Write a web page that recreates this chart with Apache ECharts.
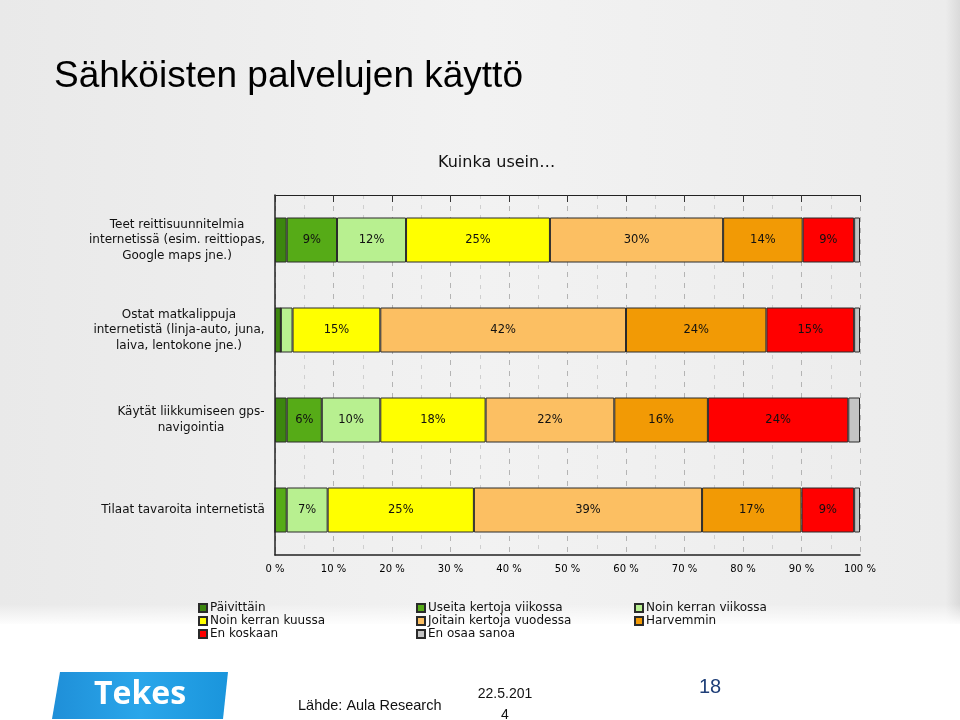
<!DOCTYPE html>
<html>
<head>
<meta charset="utf-8">
<script src="https://cdn.jsdelivr.net/npm/echarts/dist/echarts.min.js"></script>
<style>
html,body{margin:0;padding:0;background:#fff;}
#chart{width:960px;height:720px;}
</style>
</head>
<body>
<div id="chart"></div>
<script>
// ---- data ----
var categories = [
  'Teet reittisuunnitelmia\ninternetissä (esim. reittiopas,\nGoogle maps jne.)',
  'Ostat matkalippuja\ninternetistä (linja-auto, juna,\nlaiva, lentokone jne.)',
  'Käytät liikkumiseen gps-\nnavigointia',
  'Tilaat tavaroita internetistä'
];
var seriesNames = ['Päivittäin', 'Useita kertoja viikossa', 'Noin kerran viikossa',
  'Noin kerran kuussa', 'Joitain kertoja vuodessa', 'Harvemmin', 'En koskaan', 'En osaa sanoa'];
var paivittain = [2, 1, 2, 0];
var useitaViikossa = [8.6, 0, 6, 2];
var kerranViikossa = [11.8, 2, 10, 7];
var kerranKuussa = [24.6, 15, 18, 25];
var vuodessa = [29.6, 42, 22, 39];
var harvemmin = [13.6, 24, 16, 17];
var enKoskaan = [8.8, 15, 24, 9];
var enOsaa = [1, 1, 2, 1];
var xTicks = [0, 10, 20, 30, 40, 50, 60, 70, 80, 90, 100];

var values = [paivittain, useitaViikossa, kerranViikossa, kerranKuussa, vuodessa, harvemmin, enKoskaan, enOsaa];
var colors = ['#3c860e', '#56ab17', '#b8f090', '#ffff00', '#fcbf62', '#f29a05', '#ff0000', '#c4c4c4'];

// measure category label widths to center lines inside a right-aligned block
var catFont = '12px "DejaVu Sans"';
var cv = document.createElement('canvas').getContext('2d');
cv.font = catFont;
var rich = {};
categories.forEach(function (c, i) {
  var w = 0;
  c.split('\n').forEach(function (l) { w = Math.max(w, cv.measureText(l).width); });
  rich['r' + i] = { width: Math.ceil(w), align: 'center', fontSize: 12, fontFamily: 'DejaVu Sans', color: '#111', lineHeight: 15.5 };
});

var chart = echarts.init(document.getElementById('chart'));

var series = seriesNames.map(function (name, k) {
  return {
    name: name,
    type: 'bar',
    stack: 'all',
    barWidth: 45,
    data: values[k],
    itemStyle: { color: colors[k], borderColor: '#2a2a2a', borderWidth: 1 },
    label: {
      show: k !== 7,
      position: 'inside',
      fontSize: 11.5,
      fontFamily: 'DejaVu Sans',
      color: '#111',
      formatter: function (p) { return p.value >= 5 ? Math.round(p.value) + '%' : ''; }
    },
    emphasis: { disabled: true }
  };
});

function legend(names, left) {
  return {
    data: names,
    orient: 'vertical',
    left: left,
    top: 597,
    itemWidth: 8,
    itemHeight: 8,
    itemGap: 1,
    icon: 'rect',
    selectedMode: false,
    textStyle: { fontSize: 12, fontFamily: 'DejaVu Sans', color: '#111', padding: [0, 0, 0, -2] }
  };
}

chart.setOption({
  animation: false,
  backgroundColor: '#ffffff',
  graphic: [
    { type: 'rect', z: -10, shape: { x: 0, y: 0, width: 960, height: 624 },
      style: { fill: new echarts.graphic.LinearGradient(0, 0, 1, 0, [
        { offset: 0, color: '#e9e9e9' }, { offset: 0.5, color: '#f2f2f2' }, { offset: 0.985, color: '#ececec' }, { offset: 1, color: '#dadada' }]) } },
    { type: 'rect', z: -9, shape: { x: 0, y: 604, width: 960, height: 22 },
      style: { fill: new echarts.graphic.LinearGradient(0, 0, 0, 1, [
        { offset: 0, color: 'rgba(255,255,255,0)' }, { offset: 1, color: 'rgba(255,255,255,1)' }]) } },
    { type: 'polygon', shape: { points: [[60, 672], [228, 672], [223, 719], [52, 719]] },
      style: { fill: new echarts.graphic.LinearGradient(0, 0, 1, 0, [
        { offset: 0, color: '#1f8fd8' }, { offset: 0.5, color: '#2aa6ea' }, { offset: 1, color: '#1a95dc' }]) } },
    { type: 'text', style: { text: 'Tekes', x: 140, y: 695, align: 'center', verticalAlign: 'middle',
      fontSize: 32, fontWeight: 'bold', fontFamily: 'Open Sans', fill: '#ffffff' } },
    { type: 'text', style: { text: 'Lähde: Aula Research', x: 298, y: 706, verticalAlign: 'middle',
      fontSize: 14.5, fontFamily: 'Liberation Sans', fill: '#111' } },
    { type: 'text', style: { text: '22.5.201\n4', x: 505, y: 705, align: 'center', verticalAlign: 'middle',
      fontSize: 14, lineHeight: 21, fontFamily: 'Liberation Sans', fill: '#111' } },
    { type: 'text', style: { text: '18', x: 710, y: 687, align: 'center', verticalAlign: 'middle',
      fontSize: 20, fontFamily: 'Liberation Sans', fill: '#1f3f78' } }
  ],
  title: [
    { text: 'Sähköisten palvelujen käyttö', left: 49, top: 53,
      textStyle: { fontSize: 37, fontWeight: 'normal', fontFamily: 'Liberation Sans', color: '#000' } },
    { text: 'Kuinka usein…', left: 433, top: 150,
      textStyle: { fontSize: 16, fontWeight: 'normal', fontFamily: 'DejaVu Sans', color: '#111' } }
  ],
  legend: [
    legend(['Päivittäin', 'Noin kerran kuussa', 'En koskaan'], 193),
    legend(['Useita kertoja viikossa', 'Joitain kertoja vuodessa', 'En osaa sanoa'], 411),
    legend(['Noin kerran viikossa', 'Harvemmin'], 629)
  ],
  grid: { left: 275, right: 100, top: 195, height: 360, containLabel: false },
  xAxis: [{
    type: 'value', min: 0, max: 100, interval: 10,
    axisLine: { show: true, lineStyle: { color: '#222', width: 1.5 } },
    axisTick: { show: false },
    axisLabel: { formatter: function (v) { return xTicks.indexOf(v) >= 0 ? v + ' %' : ''; },
      fontSize: 10, fontFamily: 'DejaVu Sans', color: '#000', margin: 9 },
    splitLine: { show: true, lineStyle: { color: '#b4b4b4', type: [5, 6], width: 1 } },
    minorTick: { show: false, splitNumber: 2 },
    minorSplitLine: { show: true, lineStyle: { color: '#cfcfcf', type: [4, 6], width: 1 } }
  }, {
    type: 'value', min: 0, max: 100, interval: 10, position: 'top',
    axisLine: { show: true, lineStyle: { color: '#222', width: 1 } },
    axisTick: { show: true, inside: true, length: 7, lineStyle: { color: '#333' } },
    axisLabel: { show: false },
    splitLine: { show: false }
  }],
  yAxis: {
    type: 'category', inverse: true, data: categories,
    axisLine: { show: true, lineStyle: { color: '#222', width: 1.5 } },
    axisTick: { show: false },
    axisLabel: {
      margin: 10,
      formatter: function (v, i) {
        return v.split('\n').map(function (l) { return '{r' + i + '|' + l + '}'; }).join('\n');
      },
      rich: rich
    }
  },
  series: series
});
</script>
</body>
</html>
